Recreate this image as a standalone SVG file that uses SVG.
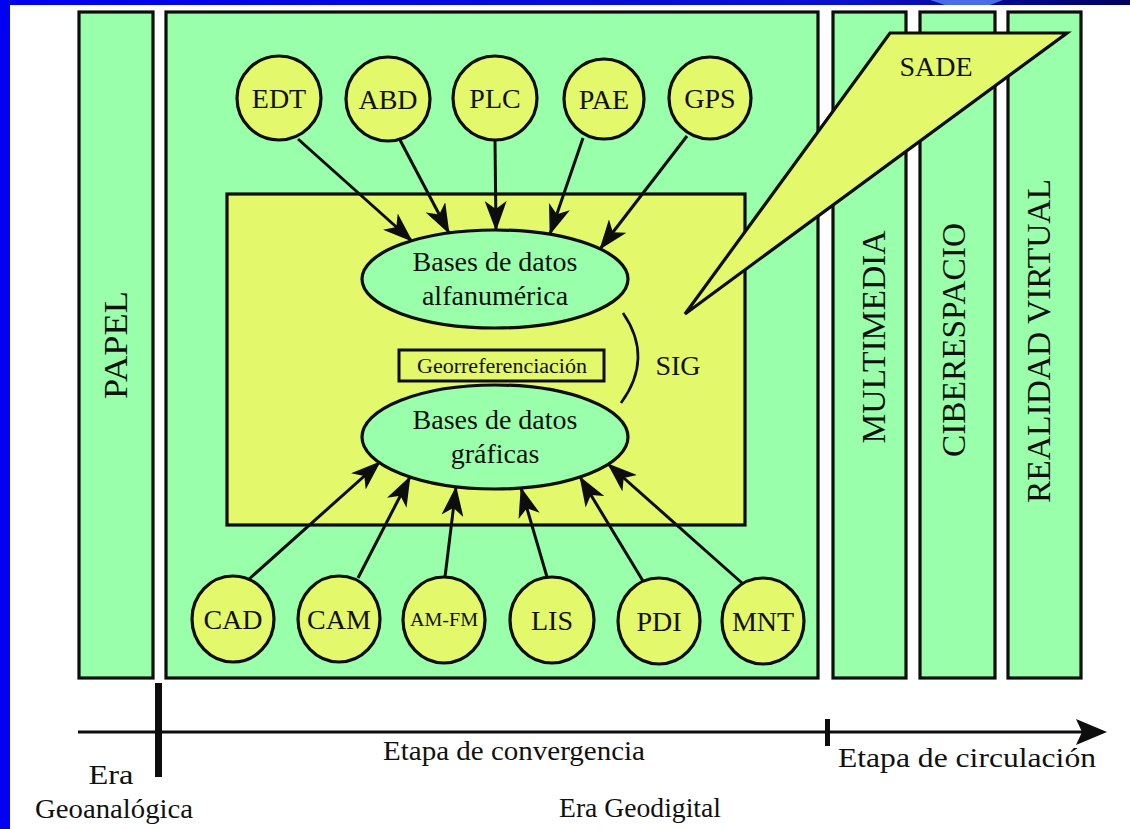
<svg xmlns="http://www.w3.org/2000/svg" width="1130" height="829" viewBox="0 0 1130 829">
<style>
.g{fill:#99FFAA;stroke:#0d0d0d;stroke-width:3.2}
.y{fill:#E3F86A;stroke:#0d0d0d;stroke-width:3.2}
.t{font-family:"Liberation Serif","Times New Roman",Times,serif;fill:#111;text-anchor:middle}
.c{font-size:28px}
.v{font-size:33px}
.ax{font-size:28px}
.lk{stroke:#0d0d0d;stroke-width:3;fill:none;marker-end:url(#ah)}
</style>
<defs>
<marker id="ah" markerUnits="userSpaceOnUse" viewBox="0 0 30 22" refX="29" refY="11" markerWidth="30" markerHeight="22" orient="auto">
<path d="M0,0 L30,11 L0,22 L8,11 Z" fill="#0d0d0d"/>
</marker>
<linearGradient id="bar" x1="0" y1="0" x2="1" y2="0">
<stop offset="0" stop-color="#0000F2"/>
<stop offset="0.75" stop-color="#0A10D0"/>
<stop offset="1" stop-color="#000060"/>
</linearGradient>
</defs>
<rect x="0" y="0" width="1130" height="829" fill="#FFFFFF"/>
<rect x="0" y="0" width="1130" height="5" fill="url(#bar)"/>
<polygon points="930,0 1003,0 990,5 945,5" fill="#4A6CE8"/>
<rect x="0" y="0" width="10" height="829" fill="#0000F2"/>

<g id="papel"><rect class="g" x="79" y="12" width="74" height="666"/>
<text class="t v" transform="translate(127,345) rotate(-90)" textLength="108" lengthAdjust="spacingAndGlyphs">PAPEL</text></g>
<g id="main"><rect class="g" x="166" y="12" width="652" height="666"/></g>
<g id="multimedia"><rect class="g" x="833" y="12" width="73" height="666"/>
<text class="t v" transform="translate(885,337) rotate(-90)" textLength="213" lengthAdjust="spacingAndGlyphs">MULTIMEDIA</text></g>
<g id="ciberespacio"><rect class="g" x="920" y="12" width="75" height="666"/>
<text class="t v" transform="translate(965,340) rotate(-90)" textLength="234" lengthAdjust="spacingAndGlyphs">CIBERESPACIO</text></g>
<g id="realidad"><rect class="g" x="1008" y="12" width="73" height="666"/>
<text class="t v" transform="translate(1050,341) rotate(-90)" textLength="324" lengthAdjust="spacingAndGlyphs">REALIDAD VIRTUAL</text></g>

<g id="sig"><rect class="y" x="227" y="194" width="518" height="331"/>
<text class="t" x="678" y="375" font-size="28">SIG</text></g>

<g id="bd-alfa"><ellipse class="g" cx="495" cy="279" rx="133" ry="49"/>
<text class="t" x="495" y="271" font-size="28">Bases de datos</text>
<text class="t" x="495" y="305" font-size="28">alfanumérica</text></g>
<g id="georef"><rect fill="#E3F86A" stroke="#0d0d0d" stroke-width="3" x="399" y="350" width="205" height="31"/>
<text class="t" x="502" y="373" font-size="20" textLength="170" lengthAdjust="spacingAndGlyphs">Georreferenciación</text></g>
<g id="bd-graf"><ellipse class="g" cx="495" cy="437" rx="133" ry="52"/>
<text class="t" x="495" y="429" font-size="28">Bases de datos</text>
<text class="t" x="495" y="463" font-size="28">gráficas</text></g>

<g id="sade"><polygon class="y" stroke-linejoin="miter" points="890,33 1067,33 685,314"/>
<text class="t" x="936" y="76" font-size="28">SADE</text></g>

<g id="edt"><circle class="y" cx="279" cy="98" r="42"/><text class="t c" x="279" y="108">EDT</text></g>
<g id="abd"><circle class="y" cx="388" cy="99" r="42"/><text class="t c" x="388" y="109">ABD</text></g>
<g id="plc"><circle class="y" cx="495" cy="98" r="42"/><text class="t c" x="495" y="108">PLC</text></g>
<g id="pae"><circle class="y" cx="604" cy="99" r="40"/><text class="t c" x="604" y="109">PAE</text></g>
<g id="gps"><circle class="y" cx="710" cy="98" r="41"/><text class="t c" x="710" y="108">GPS</text></g>

<g id="cad"><ellipse class="y" cx="233" cy="619" rx="41" ry="43"/><text class="t c" x="233" y="629">CAD</text></g>
<g id="cam"><ellipse class="y" cx="339" cy="619" rx="41" ry="43"/><text class="t c" x="339" y="629">CAM</text></g>
<g id="amfm"><ellipse class="y" cx="444" cy="620" rx="41" ry="43"/><text class="t" x="444" y="626" font-size="18" textLength="68" lengthAdjust="spacingAndGlyphs">AM-FM</text></g>
<g id="lis"><ellipse class="y" cx="552" cy="620" rx="42" ry="43"/><text class="t c" x="552" y="630">LIS</text></g>
<g id="pdi"><ellipse class="y" cx="659" cy="621" rx="41" ry="43"/><text class="t c" x="659" y="631">PDI</text></g>
<g id="mnt"><ellipse class="y" cx="763" cy="621" rx="41" ry="43"/><text class="t c" x="763" y="631">MNT</text></g>

<g id="connectors">
<line class="lk" x1="298" y1="139" x2="412" y2="241"/>
<line class="lk" x1="400" y1="140" x2="449" y2="233"/>
<line class="lk" x1="495" y1="140" x2="496" y2="230"/>
<line class="lk" x1="583" y1="138" x2="550" y2="234"/>
<line class="lk" x1="687" y1="136" x2="600" y2="249"/>
<line class="lk" x1="248" y1="580" x2="380" y2="462"/>
<line class="lk" x1="358" y1="578" x2="410" y2="477"/>
<line class="lk" x1="445" y1="577" x2="456" y2="487"/>
<line class="lk" x1="547" y1="577" x2="521" y2="488"/>
<line class="lk" x1="643" y1="581" x2="580" y2="477"/>
<line class="lk" x1="742" y1="583" x2="608" y2="464"/>
<path d="M623,313 Q654,358 621,403" fill="none" stroke="#0d0d0d" stroke-width="2.6"/>
</g>

<g id="axis">
<line x1="78" y1="732" x2="1086" y2="732" stroke="#0d0d0d" stroke-width="3"/>
<path d="M1107,732 L1076,719 L1082,732 L1076,745 Z" fill="#0d0d0d"/>
<rect x="155" y="683" width="7" height="94" fill="#0d0d0d"/>
<rect x="825" y="719" width="5" height="27" fill="#0d0d0d"/>
<text class="t ax" x="514" y="760" textLength="262" lengthAdjust="spacingAndGlyphs">Etapa de convergencia</text>
<text class="t ax" x="967" y="767" textLength="258" lengthAdjust="spacingAndGlyphs">Etapa de circulación</text>
<text class="t ax" x="111" y="784" textLength="45" lengthAdjust="spacingAndGlyphs">Era</text>
<text class="t ax" x="114" y="818" textLength="158" lengthAdjust="spacingAndGlyphs">Geoanalógica</text>
<text class="t ax" x="640" y="817" textLength="162" lengthAdjust="spacingAndGlyphs">Era Geodigital</text>
</g>
</svg>
